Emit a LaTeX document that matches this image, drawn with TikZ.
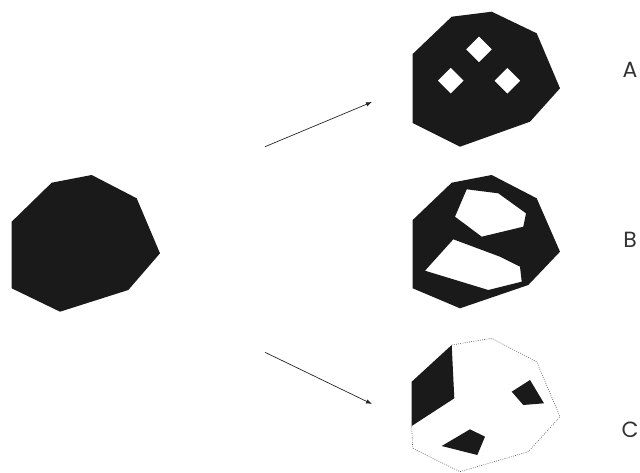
\documentclass[tikz,border=0pt]{standalone}
\usepackage{fontspec}
\setmainfont{Poppins}
\usetikzlibrary{arrows.meta}
\definecolor{ink}{HTML}{1A1A1A}
\tikzset{
  solid shape/.style={fill=ink},
  holed shape/.style={fill=ink,even odd rule},
  dotted outline/.style={draw=black!70,line width=0.6pt,dash pattern=on 0.8pt off 1.4pt},
  arrowline/.style={draw=black!85,line width=0.7pt,-{Latex[length=6pt,width=4.5pt]}},
  letter/.style={font=\fontsize{22}{22}\selectfont,text=black!80,inner sep=0pt}
}
\begin{document}
\begin{tikzpicture}[x=1pt,y=-1pt]
\useasboundingbox (0,0) rectangle (640,473);
% original shape
\fill[solid shape] (11.7,221.7) -- (51.7,182.7) -- (91.7,175) -- (136.7,198.3) -- (160,253.3) -- (128.3,290) -- (60,311.7) -- (11.7,288.3) -- cycle;
% A
\fill[holed shape] (412.7,54) -- (451.7,16.7) -- (491.7,11.7) -- (536.7,33.3) -- (560,88.3) -- (530,121.7) -- (460,146.7) -- (412.7,123) -- cycle
  (479,36.3) -- (492,49.3) -- (479,62.3) -- (466,49.3) -- cycle
  (450.7,67.7) -- (463.7,80.7) -- (450.7,93.7) -- (437.7,80.7) -- cycle
  (507.3,67.7) -- (520.3,80.7) -- (507.3,93.7) -- (494.3,80.7) -- cycle;
% B
\fill[holed shape] (412.7,220) -- (451.7,182.7) -- (491.7,175) -- (536.7,198.3) -- (560,251.7) -- (528.3,285) -- (460,308.3) -- (412.7,288.3) -- cycle
  (466.7,189.3) -- (498.3,193.3) -- (526,213.3) -- (523.3,226.7) -- (481.7,236.7) -- (455,216.7) -- cycle
  (425,270.7) -- (453.3,239.3) -- (500,256.7) -- (520,266.7) -- (521.7,281.7) -- (488.3,290) -- cycle;
% C
\draw[dotted outline] (451.7,345) -- (491.7,338.3) -- (536.7,361.7) -- (560,416.7) -- (528.3,451.7) -- (460,471.7) -- (412.7,448.3) -- (411.7,426);
\fill[solid shape] (411.7,381.7) -- (451.7,345) -- (454.3,398.3) -- (411.7,426) -- cycle;
\fill[solid shape] (511.7,391.7) -- (530,380) -- (544,403.3) -- (523.3,405) -- cycle;
\fill[solid shape] (441.7,446) -- (470,429.3) -- (485,436.7) -- (477.3,455) -- cycle;
% arrows
\coordinate (s1) at (265,146.7);
\coordinate (e1) at (372,102);
\coordinate (s2) at (265,352.3);
\coordinate (e2) at (372,404);
\draw[arrowline] (s1) -- (e1);
\draw[arrowline] (s2) -- (e2);
% labels
\node[letter] (la) at (630,70) {A};
\node[letter] (lb) at (630,240) {B};
\node[letter] (lc) at (630,430) {C};
\end{tikzpicture}
\end{document}
